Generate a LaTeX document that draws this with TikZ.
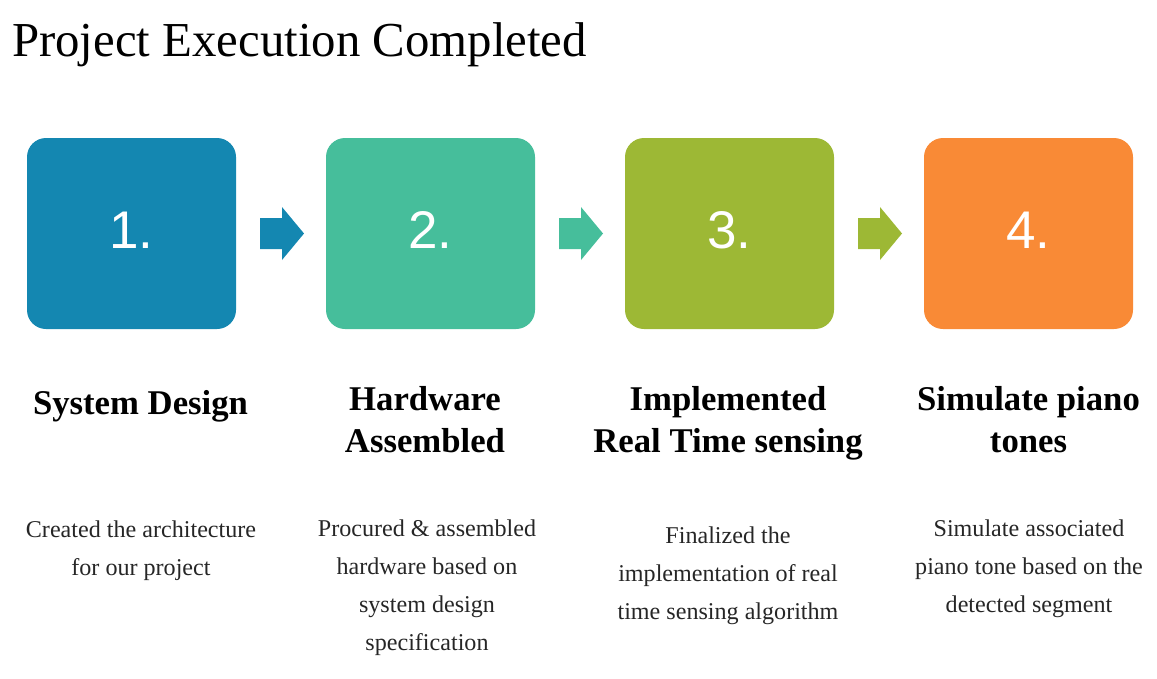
\documentclass[tikz,border=0pt]{standalone}
\usepackage{fontspec}
\setmainfont{Liberation Serif}
\newfontfamily\numfont{Liberation Sans}
\usetikzlibrary{calc}
\definecolor{stepblue}{HTML}{1487B1}
\definecolor{stepgreen}{HTML}{46BE9B}
\definecolor{steplime}{HTML}{9DB835}
\definecolor{steporange}{HTML}{F98A36}

\begin{document}
\begin{tikzpicture}[x=1pt,y=-1pt,
  box/.style={minimum width=209pt,minimum height=191pt,rounded corners=19pt,inner sep=0pt,
    text=white,font=\numfont\fontsize{53}{53}\selectfont,text height=37.6pt,text depth=7pt},
  head/.style={anchor=base,align=center,inner sep=0pt,font=\bfseries\fontsize{34.7}{42}\selectfont},
  desc/.style={anchor=base,align=center,inner sep=0pt,text=black!85,font=\fontsize{24.1}{37.7}\selectfont}]
\useasboundingbox (0,0) rectangle (1157,678);
\node[anchor=base west,inner sep=0pt,font=\fontsize{48.8}{50}\selectfont] (title) at (12,56) {Project Execution Completed};
% the four steps
\foreach \i/\c in {1/stepblue,2/stepgreen,3/steplime,4/steporange}
  \node[box,fill=\c] (b\i) at ({131.5+299*(\i-1)},233.5) {\i.};
\foreach \i/\j/\c in {1/2/stepblue,2/3/stepgreen,3/4/steplime}
  \fill[\c] ($(b\i.east)!.5!(b\j.west)$) ++(-21,-15.5) -- ++(22,0) -- ++(0,-11) -- ++(22,26.5)
    -- ++(-22,26.5) -- ++(0,-11) -- ++(-22,0) -- cycle;
% headings (base = last line)
\node[head] (h1) at (140.5,414) {System Design};
\node[head] (h2) at (425,452) {Hardware\\Assembled};
\node[head] (h3) at (728,452) {Implemented\\Real Time sensing};
\node[head] (h4) at (1028.5,452) {Simulate piano\\tones};
% what was done
\node[desc] (d1) at (141,575) {Created the architecture\\for our project};
\node[desc] (d2) at (427,650) {Procured \& assembled\\hardware based on\\system design\\specification};
\node[desc] (d3) at (728,619) {Finalized the\\implementation of real\\time sensing algorithm};
\node[desc] (d4) at (1029,612) {Simulate associated\\piano tone based on the\\detected segment};
\end{tikzpicture}
\end{document}
